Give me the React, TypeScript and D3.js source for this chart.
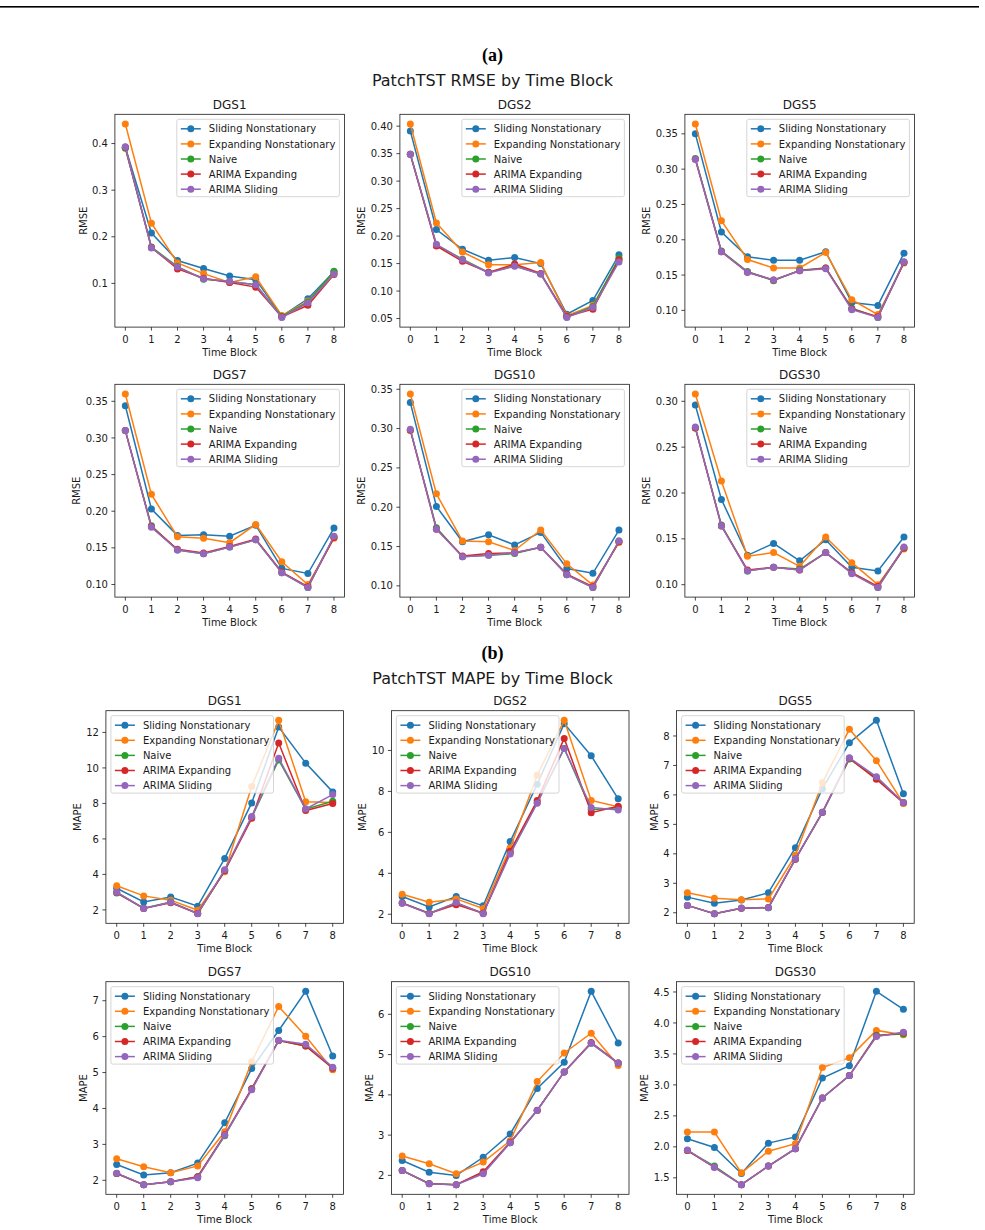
import React from "react";
import * as d3 from "d3";

// ---- shared series metadata ----
const SERIES_NAMES = [
  "Sliding Nonstationary",
  "Expanding Nonstationary",
  "Naive",
  "ARIMA Expanding",
  "ARIMA Sliding",
];
const COLORS = ["#1f77b4", "#ff7f0e", "#2ca02c", "#d62728", "#9467bd"];
const TIME_BLOCKS = [0, 1, 2, 3, 4, 5, 6, 7, 8];
const TENORS = ["DGS1", "DGS2", "DGS5", "DGS7", "DGS10", "DGS30"];

// ---- RMSE per tenor: [sliding, expanding, naive, arimaExpanding, arimaSliding] ----
const RMSE_DGS1 = [
  [0.392, 0.208, 0.149, 0.132, 0.116, 0.108, 0.030, 0.067, 0.125],
  [0.442, 0.229, 0.144, 0.121, 0.102, 0.114, 0.031, 0.062, 0.122],
  [0.390, 0.178, 0.136, 0.109, 0.104, 0.097, 0.029, 0.060, 0.126],
  [0.392, 0.177, 0.131, 0.111, 0.102, 0.092, 0.028, 0.053, 0.119],
  [0.393, 0.176, 0.135, 0.110, 0.104, 0.097, 0.027, 0.058, 0.120],
];
const RMSE_DGS2 = [
  [0.391, 0.212, 0.176, 0.156, 0.161, 0.150, 0.058, 0.083, 0.166],
  [0.404, 0.224, 0.171, 0.148, 0.148, 0.152, 0.055, 0.074, 0.157],
  [0.349, 0.184, 0.158, 0.134, 0.146, 0.131, 0.053, 0.072, 0.160],
  [0.349, 0.182, 0.154, 0.134, 0.149, 0.132, 0.054, 0.067, 0.157],
  [0.349, 0.185, 0.157, 0.133, 0.145, 0.131, 0.052, 0.070, 0.153],
];
const RMSE_DGS5 = [
  [0.350, 0.211, 0.176, 0.171, 0.171, 0.183, 0.111, 0.107, 0.181],
  [0.364, 0.227, 0.172, 0.160, 0.160, 0.182, 0.115, 0.094, 0.167],
  [0.315, 0.184, 0.155, 0.142, 0.157, 0.160, 0.103, 0.090, 0.168],
  [0.314, 0.183, 0.154, 0.143, 0.156, 0.160, 0.102, 0.091, 0.168],
  [0.314, 0.183, 0.154, 0.143, 0.156, 0.159, 0.101, 0.090, 0.169],
];
const RMSE_DGS7 = [
  [0.344, 0.203, 0.167, 0.168, 0.166, 0.181, 0.122, 0.115, 0.177],
  [0.360, 0.223, 0.165, 0.163, 0.157, 0.182, 0.131, 0.100, 0.163],
  [0.310, 0.180, 0.147, 0.142, 0.151, 0.161, 0.116, 0.096, 0.165],
  [0.310, 0.179, 0.148, 0.143, 0.152, 0.162, 0.117, 0.097, 0.164],
  [0.310, 0.178, 0.147, 0.142, 0.151, 0.161, 0.116, 0.096, 0.166],
];
const RMSE_DGS10 = [
  [0.333, 0.201, 0.156, 0.165, 0.152, 0.168, 0.122, 0.116, 0.171],
  [0.344, 0.217, 0.157, 0.156, 0.145, 0.171, 0.128, 0.101, 0.155],
  [0.298, 0.174, 0.137, 0.139, 0.141, 0.149, 0.114, 0.098, 0.157],
  [0.298, 0.172, 0.138, 0.141, 0.142, 0.149, 0.115, 0.099, 0.156],
  [0.299, 0.172, 0.137, 0.139, 0.142, 0.149, 0.114, 0.098, 0.157],
];
const RMSE_DGS30 = [
  [0.296, 0.193, 0.132, 0.145, 0.126, 0.149, 0.119, 0.115, 0.152],
  [0.308, 0.213, 0.131, 0.135, 0.120, 0.152, 0.124, 0.100, 0.139],
  [0.271, 0.165, 0.115, 0.119, 0.117, 0.135, 0.113, 0.097, 0.140],
  [0.271, 0.164, 0.116, 0.119, 0.116, 0.135, 0.113, 0.098, 0.140],
  [0.272, 0.164, 0.115, 0.119, 0.116, 0.135, 0.112, 0.097, 0.141],
];

// ---- MAPE per tenor ----
const MAPE_DGS1 = [
  [3.22, 2.45, 2.73, 2.21, 4.90, 8.03, 12.30, 10.27, 8.65],
  [3.36, 2.79, 2.55, 1.98, 4.15, 8.95, 12.68, 8.10, 8.05],
  [2.95, 2.10, 2.45, 1.80, 4.22, 7.22, 10.45, 7.68, 8.12],
  [2.98, 2.08, 2.40, 1.80, 4.20, 7.16, 11.40, 7.60, 7.99],
  [3.00, 2.08, 2.43, 1.79, 4.26, 7.27, 10.55, 7.69, 8.50],
];
const MAPE_DGS2 = [
  [2.87, 2.36, 2.87, 2.41, 5.55, 8.35, 11.31, 9.74, 7.64],
  [2.98, 2.59, 2.75, 2.28, 5.24, 8.79, 11.47, 7.56, 7.25],
  [2.55, 2.05, 2.55, 2.05, 5.00, 7.45, 10.10, 7.10, 7.20],
  [2.55, 2.04, 2.47, 2.05, 5.08, 7.55, 10.59, 6.96, 7.28],
  [2.54, 2.03, 2.57, 2.03, 4.94, 7.42, 10.10, 7.22, 7.09],
];
const MAPE_DGS5 = [
  [2.53, 2.32, 2.43, 2.68, 4.21, 6.21, 7.77, 8.53, 6.04],
  [2.68, 2.49, 2.44, 2.47, 3.95, 6.41, 8.23, 7.16, 5.71],
  [2.25, 1.97, 2.15, 2.17, 3.82, 5.40, 7.22, 6.58, 5.74],
  [2.25, 1.97, 2.15, 2.18, 3.82, 5.41, 7.24, 6.53, 5.73],
  [2.25, 1.97, 2.16, 2.17, 3.83, 5.41, 7.26, 6.62, 5.74],
];
const MAPE_DGS7 = [
  [2.44, 2.15, 2.21, 2.48, 3.60, 5.11, 6.17, 7.26, 5.46],
  [2.60, 2.38, 2.21, 2.40, 3.35, 5.30, 6.84, 6.01, 5.08],
  [2.19, 1.88, 1.96, 2.10, 3.24, 4.55, 5.89, 5.74, 5.13],
  [2.19, 1.88, 1.96, 2.10, 3.27, 4.55, 5.89, 5.74, 5.12],
  [2.20, 1.88, 1.96, 2.07, 3.26, 4.52, 5.90, 5.79, 5.15],
];
const MAPE_DGS10 = [
  [2.37, 2.08, 2.00, 2.45, 3.03, 4.16, 4.81, 6.57, 5.29],
  [2.48, 2.29, 2.04, 2.33, 2.86, 4.33, 5.04, 5.53, 4.73],
  [2.12, 1.80, 1.77, 2.07, 2.81, 3.61, 4.57, 5.28, 4.79],
  [2.12, 1.79, 1.77, 2.09, 2.82, 3.62, 4.57, 5.30, 4.79],
  [2.12, 1.79, 1.77, 2.04, 2.81, 3.61, 4.57, 5.28, 4.79],
];
const MAPE_DGS30 = [
  [2.13, 1.99, 1.57, 2.06, 2.16, 3.11, 3.31, 4.51, 4.22],
  [2.24, 2.24, 1.58, 1.93, 2.05, 3.28, 3.44, 3.88, 3.81],
  [1.94, 1.69, 1.39, 1.69, 1.97, 2.79, 3.15, 3.80, 3.82],
  [1.94, 1.67, 1.39, 1.69, 1.97, 2.79, 3.15, 3.79, 3.84],
  [1.95, 1.67, 1.39, 1.69, 1.97, 2.79, 3.15, 3.78, 3.85],
];

// ---- y tick labels ----
const RMSE_TICKS = [
  ["0.1", "0.2", "0.3", "0.4"],
  ["0.05", "0.10", "0.15", "0.20", "0.25", "0.30", "0.35", "0.40"],
  ["0.10", "0.15", "0.20", "0.25", "0.30", "0.35"],
  ["0.10", "0.15", "0.20", "0.25", "0.30", "0.35"],
  ["0.10", "0.15", "0.20", "0.25", "0.30", "0.35"],
  ["0.10", "0.15", "0.20", "0.25", "0.30"],
];
const MAPE_TICKS = [
  ["2", "4", "6", "8", "10", "12"],
  ["2", "4", "6", "8", "10"],
  ["2", "3", "4", "5", "6", "7", "8"],
  ["2", "3", "4", "5", "6", "7"],
  ["2", "3", "4", "5", "6"],
  ["1.5", "2.0", "2.5", "3.0", "3.5", "4.0", "4.5"],
];

const RMSE_DATA = [RMSE_DGS1, RMSE_DGS2, RMSE_DGS5, RMSE_DGS7, RMSE_DGS10, RMSE_DGS30];
const MAPE_DATA = [MAPE_DGS1, MAPE_DGS2, MAPE_DGS5, MAPE_DGS7, MAPE_DGS10, MAPE_DGS30];

const FONT = "'DejaVu Sans', sans-serif";
const INK = "#1a1a1a";

// approximate DejaVu Sans advance widths at 10px for tick strings
function tickTextWidth(s: string) {
  let w = 0;
  for (const ch of s) w += ch === "." ? 3.18 : 6.36;
  return w;
}

type PanelProps = {
  left: number;
  top: number;
  width: number;
  height: number;
  title: string;
  yLabel: string;
  series: number[][];
  ticks: string[];
  legendSide: "left" | "right";
};

function Panel({ left, top, width, height, title, yLabel, series, ticks, legendSide }: PanelProps) {
  const all = series.flat();
  const lo = d3.min(all) as number;
  const hi = d3.max(all) as number;
  const pad = (hi - lo) * 0.05;
  const x = d3.scaleLinear().domain([-0.4, 8.4]).range([left, left + width]);
  const y = d3.scaleLinear().domain([lo - pad, hi + pad]).range([top + height, top]);
  const line = d3
    .line<number>()
    .x((_, i) => x(TIME_BLOCKS[i]))
    .y((v) => y(v));

  const maxTickW = d3.max(ticks, tickTextWidth) as number;
  const yLabelCenter = left - 7 - maxTickW - 4 - 5;
  const midY = top + height / 2;

  const legW = 162.6;
  const legH = 77.4;
  const legLeft = legendSide === "right" ? left + width - 5 - legW : left + 5;
  const legTop = top + 5;

  return (
    <g>
      {/* y ticks */}
      {ticks.map((t) => {
        const yy = y(+t);
        return (
          <g key={t}>
            <line x1={left - 3.5} x2={left} y1={yy} y2={yy} stroke={INK} strokeWidth={0.8} />
            <text
              x={left - 7}
              y={yy}
              dy="0.36em"
              textAnchor="end"
              fontSize={10}
              fontFamily={FONT}
              fill={INK}
            >
              {t}
            </text>
          </g>
        );
      })}
      {/* x ticks */}
      {TIME_BLOCKS.map((t) => (
        <g key={t}>
          <line
            x1={x(t)}
            x2={x(t)}
            y1={top + height}
            y2={top + height + 3.5}
            stroke={INK}
            strokeWidth={0.8}
          />
          <text
            x={x(t)}
            y={top + height + 16}
            textAnchor="middle"
            fontSize={10}
            fontFamily={FONT}
            fill={INK}
          >
            {t}
          </text>
        </g>
      ))}
      <text
        x={left + width / 2}
        y={top + height + 29}
        textAnchor="middle"
        fontSize={10}
        fontFamily={FONT}
        fill={INK}
      >
        Time Block
      </text>
      <text
        transform={`translate(${yLabelCenter + 3.6},${midY}) rotate(-90)`}
        textAnchor="middle"
        fontSize={10}
        fontFamily={FONT}
        fill={INK}
      >
        {yLabel}
      </text>
      <text
        x={left + width / 2}
        y={top - 5.5}
        textAnchor="middle"
        fontSize={12}
        fontFamily={FONT}
        fill={INK}
      >
        {title}
      </text>

      {/* series: line then markers, drawn in order */}
      {series.map((vals, si) => (
        <g key={si}>
          <path d={line(vals) || ""} fill="none" stroke={COLORS[si]} strokeWidth={1.5} />
          {vals.map((v, i) => (
            <circle key={i} cx={x(TIME_BLOCKS[i])} cy={y(v)} r={3.5} fill={COLORS[si]} />
          ))}
        </g>
      ))}

      {/* frame */}
      <rect
        x={left}
        y={top}
        width={width}
        height={height}
        fill="none"
        stroke={INK}
        strokeWidth={0.8}
      />

      {/* legend */}
      <g>
        <rect
          x={legLeft}
          y={legTop}
          width={legW}
          height={legH}
          rx={2}
          fill="#ffffff"
          fillOpacity={0.8}
          stroke="#cccccc"
          strokeWidth={0.8}
        />
        {SERIES_NAMES.map((name, i) => {
          const cy = legTop + 9.5 + i * 15.1;
          return (
            <g key={name}>
              <line
                x1={legLeft + 4}
                x2={legLeft + 24}
                y1={cy}
                y2={cy}
                stroke={COLORS[i]}
                strokeWidth={1.5}
              />
              <circle cx={legLeft + 14} cy={cy} r={3.5} fill={COLORS[i]} />
              <text
                x={legLeft + 32}
                y={cy + 3.6}
                fontSize={10}
                fontFamily={FONT}
                fill={INK}
              >
                {name}
              </text>
            </g>
          );
        })}
      </g>
    </g>
  );
}

const RMSE_LAYOUT = { lefts: [114.9, 399.9, 684.9], width: 229.5, tops: [114.3, 384.3], height: 212.8 };
const MAPE_LAYOUT = { lefts: [105.9, 391.4, 676.6], width: 237.6, tops: [710.7, 981.7], height: 212.6 };

export default function App() {
  const W = 985;
  const H = 1230;
  const cx = 492.5;
  return (
    <svg
      width={W}
      height={H}
      viewBox={`0 0 ${W} ${H}`}
      style={{ position: "absolute", left: 0, top: 0, background: "#ffffff" }}
    >
      <rect x={0} y={0} width={W} height={H} fill="#ffffff" />
      <rect x={0} y={6} width={979} height={1.6} fill="#000000" />

      <text x={cx} y={61} textAnchor="middle" fontSize={18} fontWeight="bold" fontFamily="'Liberation Serif', serif" fill="#000">
        (a)
      </text>
      <text x={cx} y={86} textAnchor="middle" fontSize={16} fontFamily={FONT} fill={INK}>
        PatchTST RMSE by Time Block
      </text>

      {RMSE_DATA.map((s, i) => (
        <Panel
          key={"r" + i}
          left={RMSE_LAYOUT.lefts[i % 3]}
          top={RMSE_LAYOUT.tops[Math.floor(i / 3)]}
          width={RMSE_LAYOUT.width}
          height={RMSE_LAYOUT.height}
          title={TENORS[i]}
          yLabel="RMSE"
          series={s}
          ticks={RMSE_TICKS[i]}
          legendSide="right"
        />
      ))}

      <text x={cx} y={659} textAnchor="middle" fontSize={18} fontWeight="bold" fontFamily="'Liberation Serif', serif" fill="#000">
        (b)
      </text>
      <text x={cx} y={684} textAnchor="middle" fontSize={16} fontFamily={FONT} fill={INK}>
        PatchTST MAPE by Time Block
      </text>

      {MAPE_DATA.map((s, i) => (
        <Panel
          key={"m" + i}
          left={MAPE_LAYOUT.lefts[i % 3]}
          top={MAPE_LAYOUT.tops[Math.floor(i / 3)]}
          width={MAPE_LAYOUT.width}
          height={MAPE_LAYOUT.height}
          title={TENORS[i]}
          yLabel="MAPE"
          series={s}
          ticks={MAPE_TICKS[i]}
          legendSide="left"
        />
      ))}
    </svg>
  );
}
